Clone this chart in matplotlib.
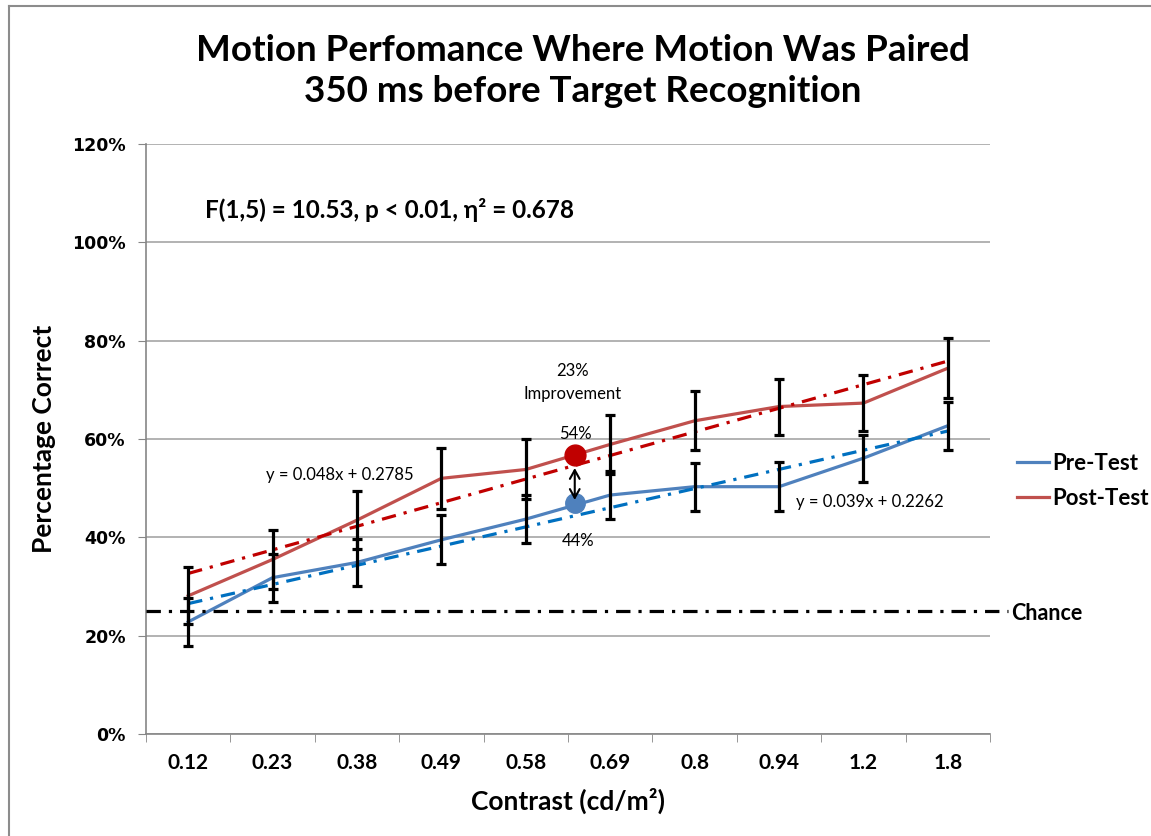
import numpy as np
import matplotlib.pyplot as plt
from matplotlib.ticker import PercentFormatter, FixedLocator
from matplotlib.lines import Line2D
import matplotlib.transforms as mtransforms

plt.rcParams['font.family'] = ['Lato', 'DejaVu Sans']

# Data
contrast = ["0.12", "0.23", "0.38", "0.49", "0.58", "0.69", "0.8", "0.94", "1.2", "1.8"]
pre_test = [0.228, 0.318, 0.349, 0.395, 0.437, 0.486, 0.503, 0.503, 0.561, 0.627]
post_test = [0.281, 0.355, 0.435, 0.520, 0.538, 0.589, 0.637, 0.666, 0.673, 0.744]
pre_err = [0.049, 0.049, 0.048, 0.050, 0.049, 0.049, 0.049, 0.050, 0.048, 0.049]
post_err = [0.058, 0.060, 0.059, 0.062, 0.061, 0.060, 0.060, 0.057, 0.057, 0.061]

# linear trendlines shown on the chart (x = 1..10)
pre_slope, pre_icpt = 0.039, 0.2262
post_slope, post_icpt = 0.048, 0.2785
chance = 0.25

# highlighted point between 0.58 and 0.69
hl_x = 4.58
hl_post, hl_pre = 0.567, 0.470

blue = "#4F81BD"
red = "#C0504D"
trend_blue = "#0070C0"
trend_red = "#C00000"

fig = plt.figure(figsize=(11.51, 8.36), dpi=100)
ax = fig.add_axes([146/1151, 102/836, 844/1151, 590/836])

x = np.arange(len(contrast))
xt = x + 1

ax.plot(x, pre_test, color=blue, lw=2.3, zorder=3, label="Pre-Test")
ax.plot(x, post_test, color=red, lw=2.3, zorder=3, label="Post-Test")

ax.plot(x, pre_slope * xt + pre_icpt, color=trend_blue, lw=2.3,
        dashes=(4.5, 2.5, 1, 2.5), zorder=4)
ax.plot(x, post_slope * xt + post_icpt, color=trend_red, lw=2.3,
        dashes=(4.5, 2.5, 1, 2.5), zorder=4)

ax.errorbar(x, pre_test, yerr=pre_err, fmt="none", ecolor="black",
            elinewidth=2.3, capsize=3.5, capthick=2.3, zorder=5)
ax.errorbar(x, post_test, yerr=post_err, fmt="none", ecolor="black",
            elinewidth=2.3, capsize=3.5, capthick=2.3, zorder=5)

# chance line runs a bit past the plot area
trans = mtransforms.blended_transform_factory(ax.transAxes, ax.transData)
ax.plot([0, 1.021], [chance, chance], transform=trans, color="black", lw=2.3,
        dashes=(4.5, 2.5, 1, 2.5), clip_on=False, zorder=4)
ax.text(1.025, chance - 0.004, "Chance", transform=trans, ha="left", va="center",
        fontsize=15.5, fontweight="bold")

# highlight markers and arrow
ax.plot([hl_x], [hl_post], "o", color=trend_red, ms=15, zorder=6)
ax.plot([hl_x], [hl_pre], "o", color=blue, ms=14, zorder=6)
ax.annotate("", xy=(hl_x, hl_pre + 0.006), xytext=(hl_x, hl_post - 0.026),
            arrowprops=dict(arrowstyle="<->,head_length=0.45,head_width=0.25",
                            color="black", lw=1.5, mutation_scale=14,
                            shrinkA=0, shrinkB=0), zorder=7)

fs = 12
ax.text(4.55, 0.738, "23%", ha="center", va="center", fontsize=fs)
ax.text(4.55, 0.691, "Improvement", ha="center", va="center", fontsize=fs)
ax.text(4.59, 0.610, "54%", ha="center", va="center", fontsize=fs)
ax.text(4.62, 0.392, "44%", ha="center", va="center", fontsize=fs)
ax.text(1.80, 0.527, "y = 0.048x + 0.2785", ha="center", va="center", fontsize=fs)
ax.text(8.08, 0.472, "y = 0.039x + 0.2262", ha="center", va="center", fontsize=fs)
ax.text(0.20, 1.066, "F(1,5) = 10.53, p < 0.01, η² = 0.678", ha="left",
        va="center", fontsize=17.5, fontweight="bold")

ax.set_xlim(-0.5, len(contrast) - 0.5)
ax.set_ylim(0, 1.2)
ax.set_yticks(np.arange(0, 1.21, 0.2))
ax.yaxis.set_major_formatter(PercentFormatter(1.0, decimals=0))
ax.grid(axis="y", color="#A6A6A6", lw=1.2)
ax.set_axisbelow(True)

ax.set_xticks(x)
ax.set_xticklabels(contrast, fontsize=15, fontweight="bold")
ax.xaxis.set_minor_locator(FixedLocator(np.arange(-0.5, len(contrast), 1)))
ax.tick_params(axis="x", which="major", length=0, pad=14)
ax.tick_params(axis="x", which="minor", length=6, color="#868686")
ax.tick_params(axis="y", length=5.5, color="#868686", pad=9)
for lab in ax.get_yticklabels():
    lab.set_fontweight("bold")
    lab.set_fontfamily("DejaVu Sans")
    lab.set_fontsize(12.5)

for s in ["top", "right"]:
    ax.spines[s].set_visible(False)
for s in ["left", "bottom"]:
    ax.spines[s].set_color("#868686")
    ax.spines[s].set_linewidth(1.2)

ax.set_xlabel("Contrast (cd/m²)", fontsize=19, fontweight="bold", labelpad=10)
ax.set_ylabel("Percentage Correct", fontsize=19, fontweight="bold", labelpad=12)

fig.text(583/1151, 1 - 71/836,
         "Motion Perfomance Where Motion Was Paired\n350 ms before Target Recognition",
         ha="center", va="center", fontsize=26.5, fontweight="bold", linespacing=1.3)

leg = ax.legend(loc="center left", bbox_to_anchor=(1.032, 0.429), frameon=False,
                fontsize=16, handlelength=1.45, handletextpad=0.15,
                labelspacing=0.65, borderpad=0, borderaxespad=0)
for t in leg.get_texts():
    t.set_fontweight("bold")

# chart area border (top and left visible)
fig.add_artist(Line2D([9/1151, 1], [1 - 6/836, 1 - 6/836], color="#8C8C8C", lw=1.5))
fig.add_artist(Line2D([9/1151, 9/1151], [0, 1 - 6/836], color="#8C8C8C", lw=1.5))

fig.savefig("out.png", dpi=100)
